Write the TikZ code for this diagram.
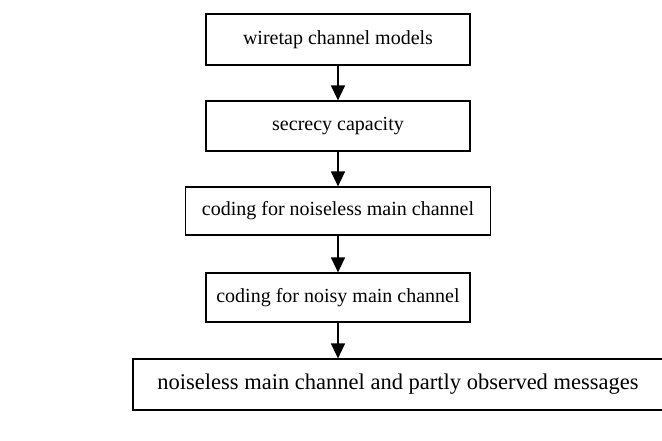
\documentclass[tikz,border=0pt]{standalone}
\usepackage{fontspec}
\setmainfont{Liberation Serif}
\usetikzlibrary{arrows.meta}
\begin{document}
\begin{tikzpicture}[x=1pt,y=-1pt,
  stage/.style={draw=black, line width=1.2pt, rectangle, inner sep=0pt,
    font=\fontsize{20}{24}\selectfont, text=black},
  flow/.style={line width=1.4pt, -{Triangle[width=14pt,length=15pt]}}]
\useasboundingbox (0,0) rectangle (662,440);
\node[stage, minimum width=264pt, minimum height=51pt] (b1) at (338,39.5) {wiretap channel models};
\node[stage, minimum width=264pt, minimum height=50pt] (b2) at (338,126) {secrecy capacity};
\node[stage, minimum width=305pt, minimum height=48pt] (b3) at (338,211) {coding for noiseless main channel};
\node[stage, minimum width=264pt, minimum height=49pt] (b4) at (338,297.5) {coding for noisy main channel};
\node[stage, minimum width=530pt, minimum height=51pt, font=\fontsize{22.5}{27}\selectfont] (b5) at (398,384.5) {noiseless main channel and partly observed messages};
\draw[flow] (b1.south) -- (b2.north);
\draw[flow] (b2.south) -- (b3.north);
\draw[flow] (b3.south) -- (b4.north);
\draw[flow] (b4.south) -- (b4.south |- b5.north);
\end{tikzpicture}
\end{document}
